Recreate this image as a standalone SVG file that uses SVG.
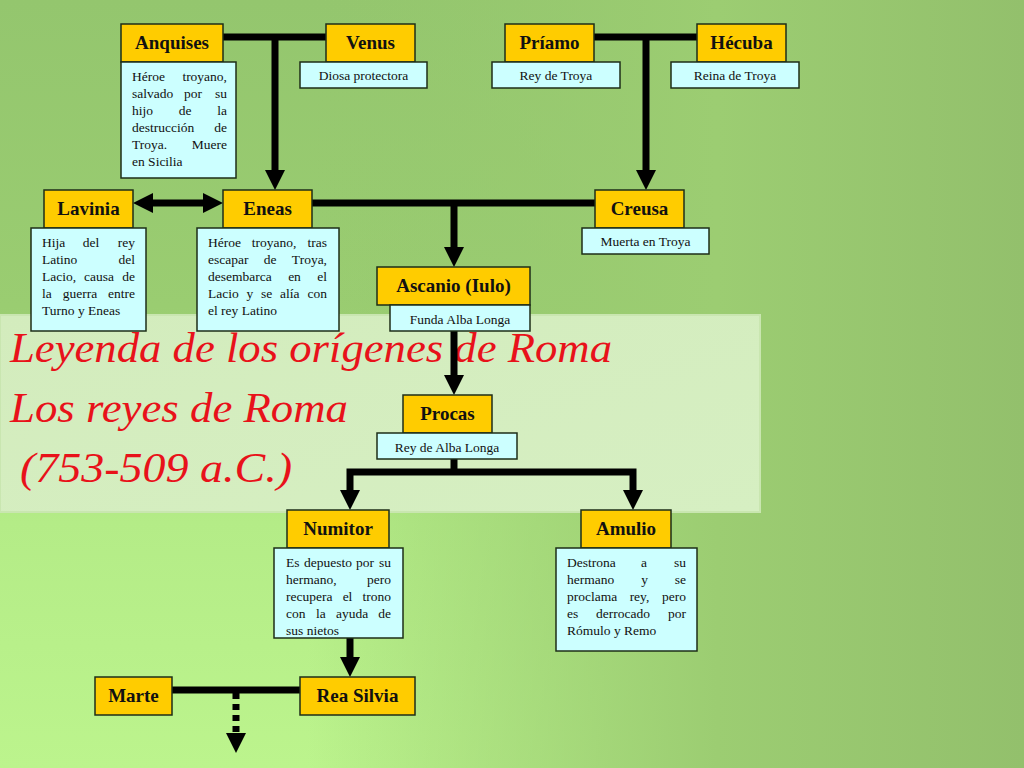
<svg xmlns="http://www.w3.org/2000/svg" width="1024" height="768" viewBox="0 0 1024 768">
<defs>
<linearGradient id="bgV" x1="0" y1="0" x2="0" y2="1">
<stop offset="0" stop-color="#94c66e"/>
<stop offset="0.4" stop-color="#9acd71"/>
<stop offset="0.68" stop-color="#b4ec87"/>
<stop offset="1" stop-color="#bcf48d"/>
</linearGradient>
<linearGradient id="bgH" x1="0" y1="0" x2="1" y2="0">
<stop offset="0.3" stop-color="#96c76e" stop-opacity="0"/>
<stop offset="0.7" stop-color="#9ccd72" stop-opacity="1"/>
<stop offset="1" stop-color="#93c06c" stop-opacity="1"/>
</linearGradient>
<linearGradient id="band" x1="0" y1="0" x2="1" y2="1">
<stop offset="0" stop-color="#d3ecbd"/>
<stop offset="1" stop-color="#d6efc2"/>
</linearGradient>
<marker id="arr" markerUnits="userSpaceOnUse" markerWidth="20" markerHeight="20" refX="0" refY="10" orient="auto-start-reverse">
<path d="M0,0 L20,10 L0,20 Z" fill="#000"/>
</marker>
<style>
.nm{fill:#ffcc00;stroke:#1e2e18;stroke-width:1.5}
.ds{fill:#ccffff;stroke:#1e2e18;stroke-width:1.5}
.nt{font-family:"Liberation Serif","Times New Roman",serif;font-weight:bold;font-size:19px;fill:#111;text-anchor:middle}
.dt{font-family:"Liberation Serif","Times New Roman",serif;font-size:13.5px;fill:#111}
.c{text-anchor:middle}
.e{text-anchor:end}
.ln{fill:none;stroke:#000;stroke-width:7}
.ttl{font-family:"Liberation Serif","Times New Roman",serif;font-style:italic;font-size:42px;fill:#e8121a}
</style>
</defs>
<rect x="0" y="0" width="1024" height="768" fill="url(#bgV)"/>
<rect x="0" y="0" width="1024" height="768" fill="url(#bgH)"/>
<rect x="0" y="315" width="760" height="197" fill="url(#band)" stroke="#c9e6b0" stroke-width="2"/>

<g id="title">
<text class="ttl" x="10" y="362" textLength="602" lengthAdjust="spacingAndGlyphs">Leyenda de los orígenes de Roma</text>
<text class="ttl" x="10" y="422" textLength="338" lengthAdjust="spacingAndGlyphs">Los reyes de Roma</text>
<text class="ttl" x="20" y="482" textLength="272" lengthAdjust="spacingAndGlyphs">(753-509 a.C.)</text>
</g>

<g id="connectors">
<path class="ln" d="M223,37 H326"/>
<path class="ln" d="M275,37 V170" marker-end="url(#arr)"/>
<path class="ln" d="M594,37 H697"/>
<path class="ln" d="M646,37 V170" marker-end="url(#arr)"/>
<path class="ln" d="M153,203 H203" marker-start="url(#arr)" marker-end="url(#arr)"/>
<path class="ln" d="M312,203 H595"/>
<path class="ln" d="M454,203 V247" marker-end="url(#arr)"/>
<path class="ln" d="M454,331 V375" marker-end="url(#arr)"/>
<path class="ln" d="M454,459 V472"/>
<path class="ln" d="M350,490 V472 H633 V490" marker-start="url(#arr)" marker-end="url(#arr)"/>
<path class="ln" d="M350,638 V657" marker-end="url(#arr)"/>
<path class="ln" d="M172,690 H300"/>
<path class="ln" d="M236,693 V733" stroke-dasharray="6,5" marker-end="url(#arr)"/>
</g>

<g id="anquises">
<rect class="nm" x="121" y="24" width="102" height="38"/>
<text class="nt" x="172" y="49">Anquises</text>
<rect class="ds" x="121" y="62" width="115" height="116"/>
<text class="dt" x="132" y="81">Héroe</text><text class="dt e" x="227" y="81">troyano,</text>
<text class="dt" x="132" y="98">salvado</text><text class="dt c" x="193" y="98">por</text><text class="dt e" x="227" y="98">su</text>
<text class="dt" x="132" y="115">hijo</text><text class="dt c" x="185" y="115">de</text><text class="dt e" x="227" y="115">la</text>
<text class="dt" x="132" y="132">destrucción</text><text class="dt e" x="227" y="132">de</text>
<text class="dt" x="132" y="149">Troya.</text><text class="dt e" x="227" y="149">Muere</text>
<text class="dt" x="132" y="166">en Sicilia</text>
</g>

<g id="venus">
<rect class="nm" x="326" y="24" width="89" height="38"/>
<text class="nt" x="370.5" y="49">Venus</text>
<rect class="ds" x="300" y="62" width="127" height="26"/>
<text class="dt c" x="363.5" y="80">Diosa protectora</text>
</g>

<g id="priamo">
<rect class="nm" x="505" y="24" width="89" height="38"/>
<text class="nt" x="549.5" y="49">Príamo</text>
<rect class="ds" x="492" y="62" width="128" height="26"/>
<text class="dt c" x="556" y="80">Rey de Troya</text>
</g>

<g id="hecuba">
<rect class="nm" x="697" y="24" width="89" height="38"/>
<text class="nt" x="741.5" y="49">Hécuba</text>
<rect class="ds" x="671" y="62" width="128" height="26"/>
<text class="dt c" x="735" y="80">Reina de Troya</text>
</g>

<g id="lavinia">
<rect class="nm" x="44" y="190" width="89" height="38"/>
<text class="nt" x="88.5" y="215">Lavinia</text>
<rect class="ds" x="31" y="228" width="115" height="103"/>
<text class="dt" x="42" y="247">Hija</text><text class="dt c" x="91" y="247">del</text><text class="dt e" x="135" y="247">rey</text>
<text class="dt" x="42" y="264">Latino</text><text class="dt e" x="135" y="264">del</text>
<text class="dt" x="42" y="281">Lacio,</text><text class="dt c" x="99" y="281">causa</text><text class="dt e" x="135" y="281">de</text>
<text class="dt" x="42" y="298">la</text><text class="dt c" x="80" y="298">guerra</text><text class="dt e" x="135" y="298">entre</text>
<text class="dt" x="42" y="315">Turno y Eneas</text>
</g>

<g id="eneas">
<rect class="nm" x="223" y="190" width="89" height="38"/>
<text class="nt" x="267.5" y="215">Eneas</text>
<rect class="ds" x="197" y="228" width="142" height="103"/>
<text class="dt" x="208" y="247">Héroe</text><text class="dt c" x="274" y="247">troyano,</text><text class="dt e" x="327" y="247">tras</text>
<text class="dt" x="208" y="264">escapar</text><text class="dt c" x="270" y="264">de</text><text class="dt e" x="327" y="264">Troya,</text>
<text class="dt" x="208" y="281">desembarca</text><text class="dt c" x="294.5" y="281">en</text><text class="dt e" x="327" y="281">el</text>
<text class="dt" x="208" y="298">Lacio</text><text class="dt" x="246.5" y="298">y</text><text class="dt" x="261" y="298">se</text><text class="dt" x="280" y="298">alía</text><text class="dt e" x="327" y="298">con</text>
<text class="dt" x="208" y="315">el rey Latino</text>
</g>

<g id="creusa">
<rect class="nm" x="595" y="190" width="89" height="38"/>
<text class="nt" x="639.5" y="215">Creusa</text>
<rect class="ds" x="582" y="228" width="127" height="26"/>
<text class="dt c" x="645.5" y="246">Muerta en Troya</text>
</g>

<g id="ascanio">
<rect class="nm" x="377" y="267" width="153" height="38"/>
<text class="nt" x="453.5" y="292">Ascanio (Iulo)</text>
<rect class="ds" x="390" y="305" width="140" height="26"/>
<text class="dt c" x="460" y="324">Funda Alba Longa</text>
</g>

<g id="procas">
<rect class="nm" x="403" y="395" width="89" height="38"/>
<text class="nt" x="447.5" y="420">Procas</text>
<rect class="ds" x="377" y="433" width="140" height="26"/>
<text class="dt c" x="447" y="452">Rey de Alba Longa</text>
</g>

<g id="numitor">
<rect class="nm" x="287" y="510" width="102" height="38"/>
<text class="nt" x="338" y="535">Numitor</text>
<rect class="ds" x="274" y="548" width="129" height="90"/>
<text class="dt" x="286" y="567">Es</text><text class="dt" x="304" y="567">depuesto</text><text class="dt" x="356" y="567">por</text><text class="dt e" x="391" y="567">su</text>
<text class="dt" x="286" y="584">hermano,</text><text class="dt e" x="391" y="584">pero</text>
<text class="dt" x="286" y="601">recupera</text><text class="dt c" x="347.5" y="601">el</text><text class="dt e" x="391" y="601">trono</text>
<text class="dt" x="286" y="618">con</text><text class="dt" x="316" y="618">la</text><text class="dt" x="336" y="618">ayuda</text><text class="dt e" x="391" y="618">de</text>
<text class="dt" x="286" y="635">sus nietos</text>
</g>

<g id="amulio">
<rect class="nm" x="581" y="510" width="90" height="38"/>
<text class="nt" x="626" y="535">Amulio</text>
<rect class="ds" x="556" y="548" width="141" height="103"/>
<text class="dt" x="567" y="567">Destrona</text><text class="dt c" x="644" y="567">a</text><text class="dt e" x="686" y="567">su</text>
<text class="dt" x="567" y="584">hermano</text><text class="dt c" x="644.5" y="584">y</text><text class="dt e" x="686" y="584">se</text>
<text class="dt" x="567" y="601">proclama</text><text class="dt c" x="639.5" y="601">rey,</text><text class="dt e" x="686" y="601">pero</text>
<text class="dt" x="567" y="618">es</text><text class="dt c" x="623" y="618">derrocado</text><text class="dt e" x="686" y="618">por</text>
<text class="dt" x="567" y="635">Rómulo y Remo</text>
</g>

<g id="marte">
<rect class="nm" x="95" y="677" width="77" height="38"/>
<text class="nt" x="133.5" y="702">Marte</text>
</g>

<g id="reasilvia">
<rect class="nm" x="300" y="677" width="115" height="38"/>
<text class="nt" x="357.5" y="702">Rea Silvia</text>
</g>
</svg>
